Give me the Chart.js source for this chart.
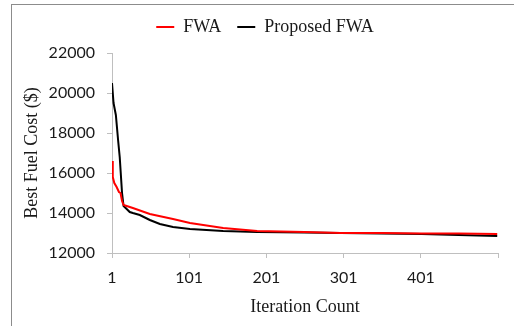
<!DOCTYPE html>
<html>
<head>
<meta charset="utf-8">
<script src="https://cdn.jsdelivr.net/npm/chart.js@4.4.1/dist/chart.umd.min.js"></script>
<style>
  html, body { margin: 0; padding: 0; background: #fff; }
  #wrap { position: relative; width: 514px; height: 326px; overflow: hidden; }
  #frame { position: absolute; left: 11px; top: 4px; width: 600px; height: 400px;
           border-left: 1.5px solid #8c8c8c; border-top: 1.5px solid #8c8c8c; }
  canvas { position: absolute; left: 0; top: 0; }
</style>
</head>
<body>
<div id="wrap">
  <div id="frame"></div>
  <canvas id="chart" width="514" height="326"></canvas>
</div>
<script>
// iterations and best cost
const fwaIter = [1, 2, 4, 7, 10, 12, 14, 16, 20, 28, 50, 80, 102, 145, 189, 250, 297, 350, 402, 450, 500];
const fwaCost = [16600, 15800, 15500, 15300, 15050, 15000, 14600, 14400, 14350, 14250, 13950, 13700, 13500, 13250, 13100, 13050, 13000, 13000, 12980, 12970, 12950];

const propIter = [1, 3, 6, 9, 11, 14, 16, 20, 24, 28, 37, 50, 63, 80, 102, 145, 189, 250, 297, 350, 402, 450, 500];
const propCost = [20500, 19500, 18900, 17600, 16800, 15000, 14350, 14200, 14050, 14000, 13900, 13650, 13450, 13300, 13200, 13100, 13050, 13020, 13000, 12980, 12950, 12900, 12850];

const xTicks = [1, 101, 201, 301, 401, 501];
const xTickLabels = ['1', '101', '201', '301', '401', ''];

const toPoints = (xs, ys) => xs.map((x, i) => ({ x: x, y: ys[i] }));

const tickFont = { family: 'Lato', size: 16 };
const serif = { family: 'Liberation Serif', size: 18 };
const axisGray = '#bfbfbf';

const ctx = document.getElementById('chart').getContext('2d');
const chart = new Chart(ctx, {
    type: 'line',
    data: {
        datasets: [
            {
                label: 'FWA',
                data: toPoints(fwaIter, fwaCost),
                borderColor: '#ff0000',
                backgroundColor: '#ff0000',
                borderWidth: 2,
                pointRadius: 0,
                tension: 0,
            },
            {
                label: 'Proposed FWA',
                data: toPoints(propIter, propCost),
                borderColor: '#000000',
                backgroundColor: '#000000',
                borderWidth: 2,
                pointRadius: 0,
                tension: 0,
            },
        ],
    },
    options: {
        responsive: false,
        animation: false,
        layout: {
            // extra left padding keeps the legend centred where the original has it
            padding: { left: 32, right: 16, top: 2, bottom: 4 },
        },
        scales: {
            x: {
                type: 'linear',
                min: 1,
                max: 501,
                afterBuildTicks: function (scale) {
                    scale.ticks = xTicks.map(v => ({ value: v }));
                },
                afterFit: function (scale) {
                    scale.height = 69;
                },
                ticks: {
                    color: '#1a1a1a',
                    font: tickFont,
                    padding: 10,
                    maxRotation: 0,
                    autoSkip: false,
                    callback: function (value) {
                        return xTickLabels[xTicks.indexOf(value)];
                    },
                },
                grid: {
                    drawOnChartArea: false,
                    color: axisGray,
                    tickLength: 5,
                },
                border: { color: axisGray, width: 1 },
                title: {
                    display: true,
                    text: 'Iteration Count',
                    color: '#1a1a1a',
                    font: serif,
                    padding: { top: 0, bottom: 4 },
                },
            },
            y: {
                min: 12000,
                max: 22000,
                afterFit: function (scale) {
                    scale.width = 80;
                },
                ticks: {
                    stepSize: 2000,
                    color: '#1a1a1a',
                    font: tickFont,
                    padding: 12,
                    callback: function (value) {
                        return String(value);
                    },
                },
                grid: {
                    drawOnChartArea: false,
                    color: axisGray,
                    tickLength: 5,
                },
                border: { color: axisGray, width: 1 },
                title: {
                    display: true,
                    text: 'Best Fuel Cost ($)',
                    color: '#1a1a1a',
                    font: serif,
                    padding: { top: -11, bottom: 0 },
                },
            },
        },
        plugins: {
            legend: {
                position: 'top',
                labels: {
                    color: '#1a1a1a',
                    font: serif,
                    usePointStyle: true,
                    pointStyle: 'line',
                    pointStyleWidth: 18,
                    padding: 16,
                },
            },
            // blank spacer between legend and plot
            subtitle: {
                display: true,
                text: ' ',
                weight: 500,
                font: { size: 1, lineHeight: 1 },
                padding: { top: 3, bottom: 3 },
            },
            tooltip: { enabled: false },
        },
    },
});
</script>
</body>
</html>
